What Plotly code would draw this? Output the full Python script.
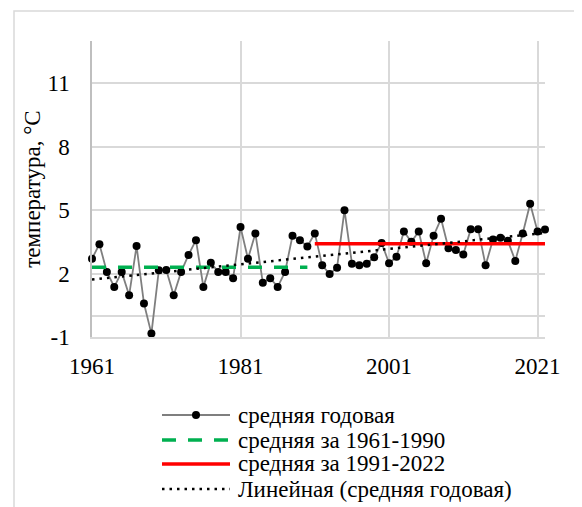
import numpy as np
import plotly.graph_objects as go

years = list(range(1961, 2023))
annual = [2.70, 3.39, 2.08, 1.37, 2.08, 0.97, 3.30, 0.58, -0.84, 2.16,
          2.17, 0.97, 2.08, 2.88, 3.58, 1.37, 2.51, 2.08, 2.08, 1.78,
          4.20, 2.70, 3.90, 1.57, 1.78, 1.37, 2.08, 3.79, 3.58, 3.28,
          3.90, 2.39, 1.98, 2.28, 5.00, 2.47, 2.39, 2.47, 2.77, 3.45,
          2.49, 2.79, 3.99, 3.50, 3.99, 2.49, 3.79, 4.59, 3.20, 3.11,
          2.90, 4.10, 4.10, 2.39, 3.61, 3.69, 3.55, 2.60, 3.90, 5.30,
          3.99, 4.09]
period1 = [1961, 1990]
mean1 = 2.30
period2 = [1991, 2022]
mean2 = 3.41
y_ticks = [-1, 2, 5, 8, 11]
y_ticktext = ["-1", "2", "5", "8", "11"]
x_ticks = [1961, 1981, 2001, 2021]
names = ["средняя годовая", "средняя за 1961-1990", "средняя за 1991-2022",
         "Линейная (средняя годовая)"]

coef = np.polyfit(years, annual, 1)
trend = list(np.polyval(coef, years))

FONT = "Times New Roman, Liberation Serif, serif"
FS = 23
OFF = 8  # page body margin
W, H = 582 - OFF, 507 - OFF
L, R, T, B = 92 - OFF, 37, 41 - OFF, 170
PW, PH = W - L - R, H - T - B

def px(xp):
    return (xp - OFF - L) / PW

def py(yp):
    return (H - B - (yp - OFF)) / PH

styles = [dict(color="#7f7f7f", width=1.8),
          dict(color="#00b050", width=3.5, dash="14px,12px"),
          dict(color="#ff0000", width=3.5),
          dict(color="black", width=2.5, dash="2.5px,5px")]

fig = go.Figure()
fig.add_trace(go.Scatter(x=years, y=annual, mode="lines+markers", name=names[0],
                         line=styles[0], marker=dict(color="black", size=8), cliponaxis=False))
fig.add_trace(go.Scatter(x=period1, y=[mean1, mean1], mode="lines", name=names[1], line=styles[1]))
fig.add_trace(go.Scatter(x=period2, y=[mean2, mean2], mode="lines", name=names[2], line=styles[2]))
fig.add_trace(go.Scatter(x=years, y=trend, mode="lines", name=names[3], line=styles[3]))

# manual legend (Excel-style long symbols)
shapes = [dict(type="rect", xref="paper", yref="paper", x0=px(14), x1=px(700),
               y0=py(700), y1=py(11), line=dict(color="#d9d9d9", width=1.5), layer="below")]
annotations = []
row_y = [415, 440, 464, 489]
for i, (nm, st) in enumerate(zip(names, styles)):
    yy = py(row_y[i])
    shapes.append(dict(type="line", xref="paper", yref="paper", x0=px(162), x1=px(230),
                       y0=yy, y1=yy, line=st))
    annotations.append(dict(text=nm, xref="paper", yref="paper", x=px(236), y=yy,
                            xanchor="left", yanchor="middle", showarrow=False,
                            font=dict(family=FONT, size=FS, color="black")))
shapes.append(dict(type="circle", xref="paper", yref="paper", xsizemode="pixel",
                   ysizemode="pixel", xanchor=px(196), yanchor=py(row_y[0]),
                   x0=-4, x1=4, y0=-4, y1=4, fillcolor="black", line=dict(width=0)))

fig.update_layout(
    width=W, height=H,
    margin=dict(l=L, r=R, t=T, b=B, autoexpand=False),
    paper_bgcolor="white", plot_bgcolor="white",
    font=dict(family=FONT, size=FS, color="black"),
    showlegend=False,
    shapes=shapes, annotations=annotations,
)
fig.update_xaxes(range=[1961, 2022], tickvals=x_ticks, showgrid=True, gridcolor="#d9d9d9",
                 gridwidth=1.5, showline=True, linecolor="#d9d9d9", linewidth=1.5,
                 ticks="outside", ticklen=8, tickcolor="rgba(0,0,0,0)", zeroline=False,
                 tickfont=dict(family=FONT, size=FS))
fig.update_yaxes(range=[-1, 13], tickvals=y_ticks, ticktext=y_ticktext, showgrid=True,
                 gridcolor="#d9d9d9", gridwidth=1.5, showline=True, linecolor="#bfbfbf",
                 linewidth=1.5, zeroline=True, zerolinecolor="#d9d9d9", zerolinewidth=1.5,
                 ticks="outside", ticklen=16, tickcolor="rgba(0,0,0,0)",
                 title=dict(text="температура, °C", standoff=0,
                            font=dict(family=FONT, size=FS)),
                 tickfont=dict(family=FONT, size=FS))

fig.write_html("out.html")
